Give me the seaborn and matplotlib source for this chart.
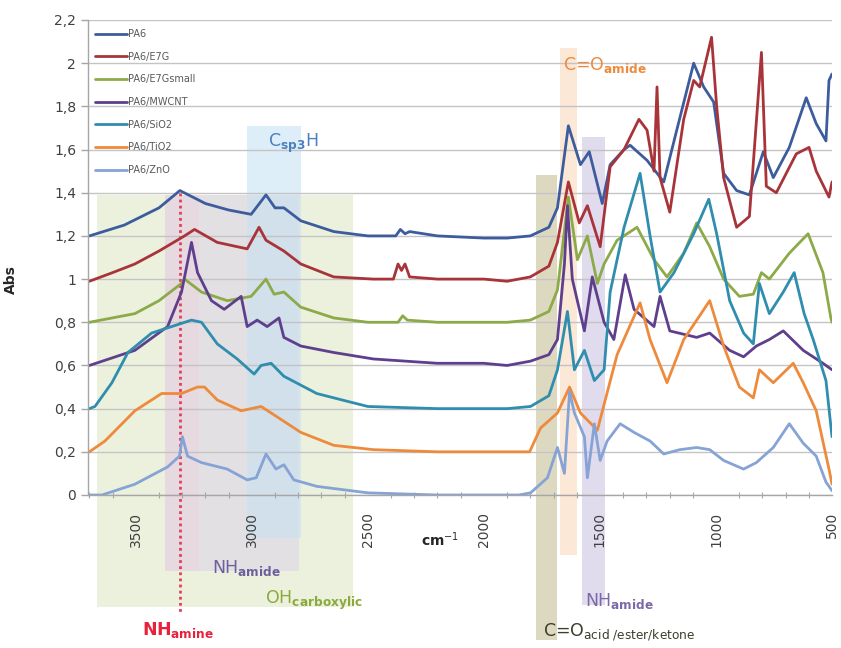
import matplotlib
matplotlib.use("Agg")
import matplotlib.pyplot as plt
from matplotlib.patches import Rectangle
from matplotlib.ticker import FixedLocator, MultipleLocator
import numpy as np
import pandas as pd
import seaborn as sns

# ---------------- data ----------------
series_names = ["PA6", "PA6/E7G", "PA6/E7Gsmall", "PA6/MWCNT", "PA6/SiO2", "PA6/TiO2", "PA6/ZnO"]

pa6_wn = [3700, 3550, 3400, 3310, 3200, 3100, 3003, 2939, 2900, 2862, 2789, 2647, 2500, 2380, 2360,
          2340, 2320, 2200, 2000, 1900, 1800, 1720, 1683, 1636, 1584, 1546, 1490, 1456, 1396, 1370,
          1297, 1225, 1169, 1096, 1053, 1010, 967, 911, 856, 796, 753, 684, 611, 568, 526, 513, 500]
pa6_abs = [1.20, 1.25, 1.33, 1.41, 1.35, 1.32, 1.30, 1.39, 1.33, 1.33, 1.27, 1.22, 1.20, 1.20, 1.23,
           1.21, 1.22, 1.20, 1.19, 1.19, 1.20, 1.24, 1.33, 1.71, 1.53, 1.59, 1.35, 1.53, 1.60, 1.62,
           1.55, 1.45, 1.69, 2.00, 1.89, 1.82, 1.49, 1.41, 1.39, 1.59, 1.47, 1.61, 1.84, 1.72, 1.64, 1.92, 1.95]

e7g_wn = [3700, 3600, 3504, 3400, 3290, 3247, 3149, 3020, 2969, 2939, 2862, 2789, 2647, 2476, 2390,
          2370, 2355, 2340, 2320, 2200, 2000, 1900, 1800, 1720, 1683, 1636, 1589, 1554, 1499, 1456,
          1396, 1332, 1297, 1267, 1254, 1241, 1199, 1139, 1096, 1070, 1019, 997, 967, 911, 856, 804,
          783, 740, 654, 599, 568, 513, 500]
e7g_abs = [0.99, 1.03, 1.07, 1.13, 1.20, 1.23, 1.17, 1.14, 1.24, 1.18, 1.13, 1.07, 1.01, 1.00, 1.00,
           1.07, 1.04, 1.07, 1.01, 1.00, 1.00, 0.99, 1.01, 1.06, 1.17, 1.45, 1.26, 1.34, 1.15, 1.52,
           1.60, 1.74, 1.69, 1.50, 1.89, 1.47, 1.31, 1.74, 1.92, 1.89, 2.12, 1.80, 1.47, 1.24, 1.29, 2.05,
           1.43, 1.40, 1.58, 1.61, 1.50, 1.38, 1.45]

e7gs_wn = [3700, 3504, 3400, 3303, 3290, 3217, 3106, 3003, 2939, 2904, 2862, 2789, 2647, 2500, 2370,
           2350, 2330, 2200, 2000, 1900, 1800, 1720, 1683, 1636, 1597, 1554, 1511, 1482, 1426, 1340,
           1267, 1211, 1139, 1083, 1027, 967, 899, 839, 804, 770, 684, 603, 539, 505, 500]
e7gs_abs = [0.80, 0.84, 0.90, 0.98, 1.00, 0.94, 0.90, 0.92, 1.00, 0.93, 0.94, 0.87, 0.82, 0.80, 0.80,
            0.83, 0.81, 0.80, 0.80, 0.80, 0.81, 0.85, 0.95, 1.38, 1.09, 1.20, 0.98, 1.07, 1.18, 1.24,
            1.09, 1.01, 1.12, 1.26, 1.15, 1.00, 0.92, 0.93, 1.03, 1.00, 1.12, 1.21, 1.03, 0.82, 0.80]

mwcnt_wn = [3700, 3504, 3363, 3303, 3260, 3234, 3174, 3119, 3046, 3020, 2977, 2934, 2883, 2862, 2789,
            2647, 2476, 2200, 2000, 1900, 1799, 1720, 1683, 1653, 1640, 1619, 1567, 1533, 1482, 1440,
            1391, 1353, 1267, 1241, 1199, 1083, 1027, 941, 881, 826, 770, 710, 624, 539, 500]
mwcnt_abs = [0.60, 0.67, 0.78, 0.94, 1.17, 1.03, 0.90, 0.86, 0.92, 0.78, 0.81, 0.78, 0.82, 0.73, 0.69,
             0.66, 0.63, 0.61, 0.61, 0.60, 0.62, 0.65, 0.72, 1.07, 1.34, 1.00, 0.76, 1.01, 0.80, 0.72,
             1.02, 0.86, 0.78, 0.92, 0.76, 0.73, 0.75, 0.67, 0.64, 0.69, 0.72, 0.76, 0.67, 0.61, 0.58]

sio2_wn = [3700, 3676, 3603, 3534, 3432, 3346, 3260, 3217, 3149, 3063, 2990, 2960, 2917, 2862, 2720,
           2574, 2500, 2200, 2000, 1900, 1799, 1720, 1683, 1640, 1610, 1567, 1524, 1482, 1456, 1396,
           1327, 1284, 1241, 1181, 1096, 1031, 997, 941, 881, 839, 813, 770, 710, 663, 620, 581, 526, 500]
sio2_abs = [0.40, 0.41, 0.52, 0.66, 0.75, 0.78, 0.81, 0.80, 0.70, 0.63, 0.56, 0.60, 0.61, 0.55, 0.47,
            0.43, 0.41, 0.40, 0.40, 0.40, 0.41, 0.46, 0.58, 0.85, 0.58, 0.67, 0.53, 0.58, 0.94, 1.24,
            1.49, 1.20, 0.94, 1.03, 1.21, 1.37, 1.21, 0.90, 0.75, 0.70, 0.98, 0.84, 0.94, 1.03, 0.84, 0.72, 0.53, 0.27]

tio2_wn = [3700, 3633, 3504, 3389, 3303, 3234, 3204, 3149, 3046, 2960, 2917, 2789, 2647, 2476, 2200,
           2000, 1850, 1803, 1756, 1683, 1631, 1584, 1511, 1482, 1426, 1327, 1284, 1211, 1139, 1083,
           1027, 967, 899, 839, 813, 753, 667, 624, 568, 513, 500]
tio2_abs = [0.20, 0.25, 0.39, 0.47, 0.47, 0.50, 0.50, 0.44, 0.39, 0.41, 0.38, 0.29, 0.23, 0.21, 0.20,
            0.20, 0.20, 0.20, 0.31, 0.38, 0.50, 0.38, 0.30, 0.42, 0.65, 0.89, 0.72, 0.52, 0.72, 0.81,
            0.90, 0.69, 0.50, 0.45, 0.58, 0.52, 0.61, 0.52, 0.39, 0.12, 0.05]

zno_wn = [3700, 3646, 3504, 3363, 3312, 3299, 3277, 3217, 3106, 3020, 2981, 2939, 2896, 2862, 2819,
          2720, 2574, 2500, 2200, 2000, 1850, 1799, 1726, 1683, 1653, 1631, 1610, 1567, 1554, 1524,
          1499, 1469, 1413, 1353, 1284, 1225, 1156, 1083, 1027, 967, 881, 826, 753, 684, 624, 568, 526, 500]
zno_abs = [0.00, 0.00, 0.05, 0.13, 0.18, 0.27, 0.18, 0.15, 0.12, 0.07, 0.08, 0.19, 0.12, 0.14, 0.07,
           0.04, 0.02, 0.01, 0.00, 0.00, 0.00, 0.01, 0.08, 0.22, 0.10, 0.48, 0.38, 0.27, 0.08, 0.33,
           0.16, 0.25, 0.33, 0.29, 0.25, 0.19, 0.21, 0.22, 0.21, 0.16, 0.12, 0.15, 0.22, 0.33, 0.24, 0.18, 0.06, 0.02]

series_wn = [pa6_wn, e7g_wn, e7gs_wn, mwcnt_wn, sio2_wn, tio2_wn, zno_wn]
series_abs = [pa6_abs, e7g_abs, e7gs_abs, mwcnt_abs, sio2_abs, tio2_abs, zno_abs]

series_colors = ["#3D5C9E", "#A8343A", "#8CAA48", "#5E3F8E", "#2F8DAE", "#EE8A3C", "#86A3D6"]

y_ticks = [0, 0.2, 0.4, 0.6, 0.8, 1.0, 1.2, 1.4, 1.6, 1.8, 2.0, 2.2]
y_tick_labels = ["0", "0,2", "0,4", "0,6", "0,8", "1", "1,2", "1,4", "1,6", "1,8", "2", "2,2"]
x_ticks = [3500, 3000, 2500, 2000, 1500, 1000, 500]
x_tick_labels = ["3500", "3000", "2500", "2000", "1500", "1000", "500"]

frames = []
for name, wn, ab in zip(series_names, series_wn, series_abs):
    frames.append(pd.DataFrame({"wavenumber": wn, "Abs": ab, "sample": name}))
df = pd.concat(frames, ignore_index=True)

# ---------------- figure ----------------
sns.set_theme(style="white")
plt.rcParams["font.family"] = ["DejaVu Sans"]
fig = plt.figure(figsize=(8.41, 6.48), dpi=100)
ax_left, ax_right, ax_top, ax_bottom = 88, 832, 20, 495
ax = fig.add_axes([ax_left / 841, 1 - ax_bottom / 648, (ax_right - ax_left) / 841,
                   (ax_bottom - ax_top) / 648])
ax_w, ax_h = ax_right - ax_left, ax_bottom - ax_top

# band assignment regions (extend below the axis into the label area)
bands = [
    # (wn_start, wn_end, abs_bottom, abs_top, colour, alpha)
    (3667, 2562, -0.52, 1.39, "#DCE6C2", 0.55),   # OH carboxylic
    (3376, 2797, -0.35, 1.39, "#D9CCEA", 0.45),   # NH amide
    (3376, 3226, -0.35, 1.39, "#F2C6DA", 0.25),   # NH amine surroundings
    (3020, 2789, -0.20, 1.71, "#C4E0F4", 0.55),   # C sp3 H
    (1777, 1683, -0.67, 1.48, "#C2BA8E", 0.55),   # C=O acid / ester / ketone
    (1670, 1597, -0.28, 2.07, "#F9D2B0", 0.5),    # C=O amide
    (1576, 1477, -0.51, 1.66, "#CEC4E4", 0.6),    # NH amide
]
for w0, w1, b0, b1, col, a in bands:
    ax.add_patch(Rectangle((w1, b0), w0 - w1, b1 - b0, facecolor=col, edgecolor="none",
                           alpha=a, clip_on=False, zorder=0.2))

# NH amine marker
ax.plot([3310, 3310], [1.40, -0.55], color="#E0405A", lw=2.0, ls=(0, (1, 1.2)),
        clip_on=False, zorder=1.5)

ax.set_xlim(3706, 500)
ax.set_ylim(0, 2.2)
ax.yaxis.set_major_locator(FixedLocator(y_ticks))
ax.set_yticklabels(y_tick_labels)
ax.xaxis.set_major_locator(FixedLocator(x_ticks))
ax.set_xticklabels(x_tick_labels, rotation=90)
ax.xaxis.set_minor_locator(MultipleLocator(100))
ax.grid(axis="y", color="#C4C4C4", lw=1.0, zorder=0.5)
ax.set_axisbelow(True)

sns.lineplot(data=df, x="wavenumber", y="Abs", hue="sample", hue_order=series_names,
             palette=dict(zip(series_names, series_colors)), estimator=None, sort=False,
             lw=2.0, ax=ax, zorder=2)

for sp in ["top", "right"]:
    ax.spines[sp].set_visible(False)
for sp in ["left", "bottom"]:
    ax.spines[sp].set_color("#A6A6A6")
    ax.spines[sp].set_linewidth(1.0)

ax.tick_params(axis="both", which="major", labelsize=10, labelcolor="#404040", color="#A6A6A6")
ax.tick_params(axis="x", which="major", direction="inout", length=8, width=1, pad=8)
ax.tick_params(axis="x", which="minor", direction="inout", length=5, width=0.8, color="#A6A6A6",
               bottom=True)
ax.tick_params(axis="y", which="major", direction="out", length=5, width=1, left=True)

ax.set_xlabel("cm$^{-1}$", fontsize=10, fontweight="bold", color="#262626")
ax.xaxis.set_label_coords((440 - ax_left) / ax_w, -(530 - ax_bottom) / ax_h)
ax.set_ylabel("Abs", fontsize=10, fontweight="bold", color="#262626")
ax.yaxis.set_label_coords(-(ax_left - 18) / ax_w, (ax_bottom - 280) / ax_h)

leg = ax.legend(loc="upper left", bbox_to_anchor=(0.0, 0.995), frameon=False, fontsize=7,
                handlelength=3.3, handletextpad=0.15, labelspacing=1.3, borderaxespad=0.3)
for t in leg.get_texts():
    t.set_color("#595959")

# band labels
lab_kw = dict(fontsize=12.5, ha="left", va="center", clip_on=False)
ax.text(3475, -0.625, r"NH$_{\mathbf{amine}}$", color="#E8223C", fontweight="bold", **lab_kw)
ax.text(3170, -0.34, r"NH$_{\mathbf{amide}}$", color="#6E5E9E", **lab_kw)
ax.text(2945, -0.49, r"OH$_{\mathbf{carboxylic}}$", color="#8CAA3C", **lab_kw)
ax.text(2932, 1.63, r"C$_{\mathbf{sp3}}$H", color="#4A80C0", **lab_kw)
ax.text(1660, 1.99, r"C=O$_{\mathbf{amide}}$", color="#EE8A3C", **lab_kw)
ax.text(1563, -0.49, r"NH$_{\mathbf{amide}}$", color="#7A6AA8", **lab_kw)
ax.text(1747, -0.635, r"C=O$_{\mathrm{acid\ /ester/ketone}}$", color="#3E3E2A", **lab_kw)

fig.savefig("out.png", dpi=100)
